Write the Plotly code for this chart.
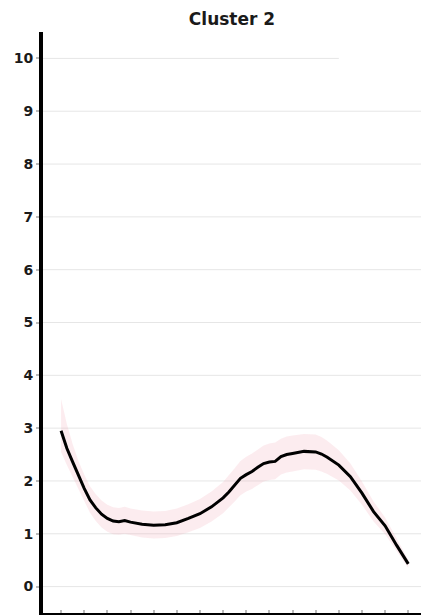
import plotly.graph_objects as go

# Cluster 2: mean trajectory with its confidence band
x = [0, 0.25, 0.5, 0.75, 1.0, 1.25, 1.5, 1.75, 2.0, 2.25, 2.5, 2.75, 3.0, 3.5,
     4.0, 4.5, 5.0, 5.5, 6.0, 6.5, 7.0, 7.25, 7.5, 7.75, 8.0, 8.25, 8.5, 8.75,
     9.0, 9.25, 9.5, 9.75, 10.0, 10.5, 11.0, 11.25, 11.5, 12.0, 12.5, 13.0,
     13.5, 14.0, 14.5, 15.0]
mean = [2.95, 2.62, 2.36, 2.10, 1.86, 1.64, 1.49, 1.37, 1.29, 1.24, 1.23, 1.25,
        1.22, 1.18, 1.16, 1.17, 1.21, 1.29, 1.38, 1.51, 1.68, 1.79, 1.92, 2.05,
        2.12, 2.18, 2.26, 2.33, 2.36, 2.37, 2.46, 2.50, 2.52, 2.56, 2.55, 2.51,
        2.45, 2.30, 2.08, 1.77, 1.42, 1.15, 0.78, 0.43]
upper = [3.55, 3.08, 2.70, 2.38, 2.12, 1.90, 1.75, 1.63, 1.55, 1.50, 1.49, 1.51,
         1.48, 1.44, 1.42, 1.43, 1.48, 1.56, 1.66, 1.80, 1.98, 2.10, 2.24, 2.38,
         2.46, 2.52, 2.60, 2.67, 2.71, 2.73, 2.80, 2.84, 2.86, 2.89, 2.88, 2.83,
         2.76, 2.58, 2.33, 1.99, 1.61, 1.31, 0.91, 0.51]
lower = [2.55, 2.30, 2.08, 1.84, 1.62, 1.40, 1.24, 1.12, 1.04, 0.99, 0.98, 1.00,
         0.97, 0.93, 0.91, 0.92, 0.96, 1.03, 1.11, 1.23, 1.39, 1.49, 1.61, 1.73,
         1.80, 1.85, 1.92, 1.99, 2.02, 2.03, 2.12, 2.16, 2.18, 2.22, 2.21, 2.18,
         2.13, 2.01, 1.82, 1.55, 1.23, 0.99, 0.66, 0.35]

y_ticks = [0, 1, 2, 3, 4, 5, 6, 7, 8, 9, 10]
y_tick_labels = [str(v) for v in y_ticks]
x_ticks = list(range(16))

fig = go.Figure()

fig.add_trace(go.Scatter(
    x=x + x[::-1], y=upper + lower[::-1],
    fill="toself", fillcolor="rgba(240,170,180,0.22)",
    line=dict(width=0), hoverinfo="skip", showlegend=False,
))
fig.add_trace(go.Scatter(
    x=x, y=mean, mode="lines",
    line=dict(color="black", width=3), showlegend=False,
))

# horizontal grid lines (the top one stops short of the right edge)
for v in y_ticks:
    fig.add_shape(
        type="line", xref="x", yref="y",
        x0=-0.78, x1=12.0 if v == 10 else 15.55, y0=v, y1=v,
        line=dict(color="#e6e6e6", width=1), layer="below",
    )

fig.update_layout(
    width=421, height=615,
    margin=dict(l=43, r=0, t=32, b=2),
    paper_bgcolor="white", plot_bgcolor="white",
    title=dict(
        text="<b>Cluster 2</b>", xref="paper", x=0.5, xanchor="center",
        yref="container", y=1 - 19 / 615, yanchor="middle",
        font=dict(family="DejaVu Sans", size=17, color="#1a1a1a"),
    ),
    xaxis=dict(
        range=[-0.78, 15.55], showgrid=False, zeroline=False,
        tickmode="array", tickvals=x_ticks, showticklabels=False,
        ticks="inside", ticklen=3, tickwidth=2, tickcolor="#bbbbbb",
        showline=True, linecolor="black", linewidth=3,
    ),
    yaxis=dict(
        range=[-0.5, 10.5], showgrid=False, zeroline=False,
        tickmode="array", tickvals=y_ticks, ticktext=y_tick_labels,
        ticks="outside", ticklen=3, tickwidth=2, tickcolor="#bbbbbb",
        tickfont=dict(family="DejaVu Sans", size=14, color="#1a1a1a", weight="bold"),
        showline=True, linecolor="black", linewidth=4,
    ),
)

fig.write_html("out.html")
